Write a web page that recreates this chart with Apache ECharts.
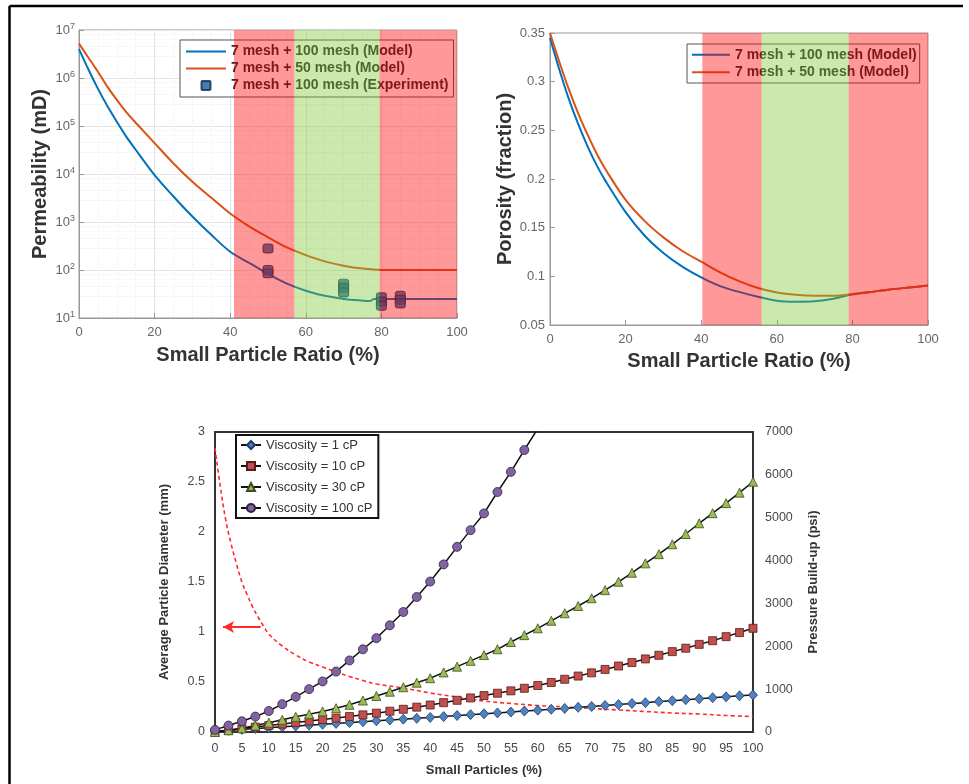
<!DOCTYPE html>
<html><head><meta charset="utf-8">
<script src="https://cdn.jsdelivr.net/npm/echarts@6/dist/echarts.min.js"></script>
<style>html,body{margin:0;padding:0;background:#fff}#c{width:969px;height:784px}</style>
</head><body><div id="c"></div>
<script>
// ---------- Chart A: Permeability ----------
const ratioBlueA = [0,2.5,5,7.5,10,12.5,15,20,25,30,35,40,45,50,55,60,65,70,75,77,78,80,90,100];
const permFine = [4.0e6,1.5e6,6.0e5,2.6e5,1.23e5,6.0e4,3.2e4,9.5e3,3.4e3,1.3e3,540,240,141,83,52,37,29,25,23,22.5,25,25,25,25];
const ratioOrangeA = [0,2.5,5,7.5,10,12.5,15,20,25,30,35,40,45,50,55,60,65,70,75,80,85,90,95,100];
const permCoarse = [5.2e6,2.65e6,1.35e6,6.6e5,3.5e5,1.95e5,1.17e5,4.4e4,1.66e4,6.9e3,3.2e3,1.5e3,810,480,295,204,151,123,107,100,100,100,100,100];
const expRatio = [50,50,50,70,70,70,80,80,80,85,85,85];
const expPerm = [280,100,85,52,42,34,27,22,18,29,24,20];
const bandsA = [[41,57],[57,79.5],[79.5,100]];
const bandKindsA = ['red','green','red'];

// ---------- Chart B: Porosity ----------
const ratioB = [0,2.5,5,7.5,10,12.5,15,20,25,30,35,40,45,50,55,60,65,70,75,80,85,90,95,100];
const porFine = [0.345,0.312,0.282,0.256,0.233,0.213,0.196,0.166,0.142,0.124,0.110,0.099,0.090,0.084,0.079,0.075,0.074,0.0745,0.077,0.0815,0.084,0.0865,0.0885,0.0905];
const porCoarse = [0.35,0.32,0.292,0.267,0.245,0.225,0.208,0.1785,0.157,0.140,0.126,0.115,0.104,0.095,0.088,0.0835,0.081,0.080,0.080,0.0815,0.084,0.0865,0.0885,0.0905];
const bandsB = [[40.3,56],[56,79],[79,100]];
const bandKindsB = ['red','green','red'];

// ---------- Chart C: Pressure build-up ----------
const smallPct = [0,2.5,5,7.5,10,12.5,15,17.5,20,22.5,25,27.5,30,32.5,35,37.5,40,42.5,45,47.5,50,52.5,55,57.5,60,62.5,65,67.5,70,72.5,75,77.5,80,82.5,85,87.5,90,92.5,95,97.5,100];
const visc1 = [20,40,60,80,100,120,140,160,180,200,220,240,260,280,300,320,340,360,385,405,425,445,465,490,510,530,550,575,595,620,640,665,685,710,730,755,775,800,820,845,865];
const visc10 = [0,40,80,115,150,185,220,255,290,325,360,400,440,485,530,580,630,685,740,795,850,905,960,1020,1085,1155,1230,1305,1380,1460,1540,1620,1705,1790,1875,1955,2045,2130,2225,2320,2420];
const visc30 = [0,40,86,150,218,285,355,415,480,555,635,735,840,940,1045,1150,1255,1390,1525,1660,1795,1930,2100,2260,2420,2595,2770,2940,3120,3310,3505,3715,3935,4150,4380,4620,4870,5105,5340,5585,5840];
const visc100 = [50,150,250,360,490,650,820,1000,1180,1410,1670,1930,2190,2490,2800,3150,3510,3910,4320,4710,5100,5600,6070,6580,7080,7620];
const diamPct = [0,1,2,3,4,5,6,7,8,9,10,12.5,15,17.5,20,22.5,25,27.5,30,35,40,45,50,55,60,65,70,75,80,85,90,95,100];
const diamMm = [2.84,2.45,2.12,1.88,1.68,1.50,1.37,1.25,1.15,1.06,0.98,0.86,0.77,0.70,0.65,0.60,0.555,0.515,0.48,0.44,0.39,0.35,0.31,0.285,0.265,0.25,0.235,0.22,0.205,0.19,0.18,0.165,0.155];
const arrowFrom = [8.5, 1.05];
const arrowTo = [1.5, 1.05];
const viscNames = ['Viscosity = 1 cP','Viscosity = 10 cP','Viscosity = 30 cP','Viscosity = 100 cP'];

const NAME_FINE = '7 mesh + 100 mesh (Model)';
const NAME_COARSE = '7 mesh + 50 mesh (Model)';
const NAME_EXP = '7 mesh + 100 mesh (Experiment)';

// ---------- styling ----------
const FONT = '"Liberation Sans", Arial, sans-serif';
const BAND_COLORS = {red:'rgba(255,0,0,0.4)', green:'rgba(128,200,50,0.4)'};
const C_BLUE = '#0072BD', C_ORANGE = '#D95319';
const LINE_ICON = 'path://M0,0H40V2.2H0Z';
const SQUARE_ICON = 'path://M1,0H9Q10,0 10,1V9Q10,10 9,10H1Q0,10 0,9V1Q0,0 1,0Z';
const zip = (xs, ys) => ys.map((v, i) => [xs[i], v]);
const bandArea = (bands, kinds) => ({
  silent: true, z: 10,
  data: bands.map((b, i) => [{xAxis: b[0], itemStyle: {color: BAND_COLORS[kinds[i]]}}, {xAxis: b[1]}])
});
const topAxisLabel = {color:'#666', fontSize:13, fontFamily:FONT};
const topName = {fontSize:20, fontWeight:'bold', color:'#333', fontFamily:FONT};
const botLabel = {color:'#4a4a4a', fontSize:12.5, fontFamily:FONT};
const botName = {fontSize:13, fontWeight:'bold', color:'#333', fontFamily:FONT};

const chart = echarts.init(document.getElementById('c'));
chart.setOption({
  animation: false,
  backgroundColor: '#fff',
  graphic: [
    {type:'line', shape:{x1:9.5, y1:6, x2:963, y2:6}, style:{stroke:'#000', lineWidth:2.5}},
    {type:'line', shape:{x1:9.5, y1:6, x2:9.5, y2:784}, style:{stroke:'#000', lineWidth:2.5}}
  ],
  grid: [
    {left:79, top:30, width:378, height:288, show:true, borderColor:'#999', borderWidth:1},
    {left:550, top:33, width:378, height:292, show:true, borderColor:'#999', borderWidth:1},
    {left:215, top:432, width:538, height:300, show:true, borderColor:'#333', borderWidth:2}
  ],
  legend: [
    {left:180, top:40, orient:'vertical', z:3, symbolKeepAspect:true,
     data:[{name:NAME_FINE, icon:LINE_ICON}, {name:NAME_COARSE, icon:LINE_ICON}, {name:NAME_EXP, icon:SQUARE_ICON}],
     backgroundColor:'#fff', borderColor:'#555', borderWidth:1, padding:[3,5,3,6], itemGap:0,
     itemWidth:40, itemHeight:9,
     textStyle:{fontSize:14, fontWeight:'bold', color:'#2a2a2a', fontFamily:FONT, lineHeight:17}},
    {left:687, top:44, orient:'vertical', z:3, symbolKeepAspect:true,
     data:[{name:NAME_FINE, icon:LINE_ICON}, {name:NAME_COARSE, icon:LINE_ICON}],
     backgroundColor:'#fff', borderColor:'#555', borderWidth:1, padding:[2,3,2,5], itemGap:0,
     itemWidth:38, itemHeight:9,
     textStyle:{fontSize:14, fontWeight:'bold', color:'#2a2a2a', fontFamily:FONT, lineHeight:17.5}},
    {left:236, top:435, orient:'vertical', data: viscNames,
     backgroundColor:'#fff', borderColor:'#111', borderWidth:2, padding:[3,6,3,4], itemGap:7,
     itemWidth:20, itemHeight:10,
     textStyle:{fontSize:13, color:'#333', fontFamily:FONT, lineHeight:14}}
  ],
  xAxis: [
    {gridIndex:0, type:'value', min:0, max:100, interval:20,
     axisLine:{show:true, lineStyle:{color:'#999'}}, axisTick:{inside:true, length:5, lineStyle:{color:'#999'}},
     axisLabel:Object.assign({margin:8}, topAxisLabel),
     splitLine:{show:true, lineStyle:{color:'#e4e4e4'}},
     minorTick:{show:false, splitNumber:4}, minorSplitLine:{show:true, lineStyle:{color:'#efefef', type:'dotted'}},
     name:'Small Particle Ratio (%)', nameLocation:'middle', nameGap:27, nameTextStyle:topName},
    {gridIndex:1, type:'value', min:0, max:100, interval:20,
     axisLine:{show:true, lineStyle:{color:'#999'}}, axisTick:{inside:true, length:5, lineStyle:{color:'#999'}},
     axisLabel:Object.assign({margin:8}, topAxisLabel), splitLine:{show:false},
     name:'Small Particle Ratio (%)', nameLocation:'middle', nameGap:26, nameTextStyle:topName},
    {gridIndex:2, type:'value', min:0, max:100, interval:5,
     axisLine:{show:true, lineStyle:{color:'#333', width:2}}, axisTick:{show:false},
     axisLabel:Object.assign({margin:10}, botLabel), splitLine:{show:false},
     name:'Small Particles (%)', nameLocation:'middle', nameGap:32, nameTextStyle:botName}
  ],
  yAxis: [
    {gridIndex:0, type:'log', logBase:10, min:10, max:1e7,
     axisLine:{show:true, lineStyle:{color:'#999'}}, axisTick:{inside:true, length:5, lineStyle:{color:'#999'}},
     axisLabel:Object.assign({margin:4, lineHeight:16,
       formatter: v => '10{s|' + Math.round(Math.log10(v)) + '}',
       rich:{s:{fontSize:9, color:'#666', verticalAlign:'top', lineHeight:12, fontFamily:FONT}}}, topAxisLabel),
     splitLine:{show:true, lineStyle:{color:'#e4e4e4'}},
     minorTick:{show:false, splitNumber:5}, minorSplitLine:{show:true, lineStyle:{color:'#efefef', type:'dotted'}},
     name:'Permeability (mD)', nameLocation:'middle', nameGap:29, nameTextStyle:topName},
    {gridIndex:1, type:'value', min:0.05, max:0.35, interval:0.05,
     axisLine:{show:true, lineStyle:{color:'#999'}}, axisTick:{inside:true, length:5, lineStyle:{color:'#999'}},
     axisLabel:Object.assign({margin:5}, topAxisLabel), splitLine:{show:false},
     name:'Porosity (fraction)', nameLocation:'middle', nameGap:35, nameTextStyle:topName},
    {gridIndex:2, type:'value', min:0, max:3, interval:0.5, position:'left',
     axisLine:{show:true, lineStyle:{color:'#333', width:2}}, axisTick:{show:false},
     axisLabel:Object.assign({margin:10}, botLabel), splitLine:{show:false},
     name:'Average Particle Diameter (mm)', nameLocation:'middle', nameGap:44, nameRotate:90, nameTextStyle:botName},
    {gridIndex:2, type:'value', min:0, max:7000, interval:1000, position:'right',
     axisLine:{show:true, lineStyle:{color:'#333', width:2}}, axisTick:{show:false},
     axisLabel:Object.assign({margin:12, formatter: v => String(v)}, botLabel), splitLine:{show:false},
     name:'Pressure Build-up (psi)', nameLocation:'middle', nameGap:54, nameRotate:90, nameTextStyle:botName}
  ],
  series: [
    {name:NAME_FINE, type:'line', xAxisIndex:0, yAxisIndex:0, data:zip(ratioBlueA, permFine),
     symbol:'none', smooth:0.3, lineStyle:{color:C_BLUE, width:2}, itemStyle:{color:C_BLUE},
     markArea: bandArea(bandsA, bandKindsA)},
    {name:NAME_COARSE, type:'line', xAxisIndex:0, yAxisIndex:0, data:zip(ratioOrangeA, permCoarse),
     symbol:'none', smooth:0.3, lineStyle:{color:C_ORANGE, width:2}, itemStyle:{color:C_ORANGE}},
    {name:NAME_EXP, type:'scatter', xAxisIndex:0, yAxisIndex:0, data:zip(expRatio, expPerm),
     symbol:'roundRect', symbolSize:[10,9], z:3,
     itemStyle:{color:'#0F5FA0', borderColor:'#0a2a48', borderWidth:1}},
    {name:NAME_FINE, type:'line', xAxisIndex:1, yAxisIndex:1, data:zip(ratioB, porFine),
     symbol:'none', smooth:0.3, lineStyle:{color:C_BLUE, width:2}, itemStyle:{color:C_BLUE},
     markArea: bandArea(bandsB, bandKindsB)},
    {name:NAME_COARSE, type:'line', xAxisIndex:1, yAxisIndex:1, data:zip(ratioB, porCoarse),
     symbol:'none', smooth:0.3, lineStyle:{color:C_ORANGE, width:2}, itemStyle:{color:C_ORANGE}},
    {name:'Average Particle Diameter (mm)', type:'line', xAxisIndex:2, yAxisIndex:2, data:zip(diamPct, diamMm),
     symbol:'none', smooth:0.4, z:1, lineStyle:{color:'#FF2A2A', width:1.6, type:[4,3]},
     markLine:{silent:true, symbol:['none','arrow'], symbolSize:[9,11], label:{show:false},
       lineStyle:{color:'#FF2A2A', width:2, type:'solid'},
       data:[[{coord:arrowFrom},{coord:arrowTo}]]}},
    {name:viscNames[0], type:'line', xAxisIndex:2, yAxisIndex:3, data:zip(smallPct, visc1),
     symbol:'diamond', symbolSize:[9,10], lineStyle:{color:'#111', width:1.5},
     itemStyle:{color:'#4F81BD', borderColor:'#1d3c66', borderWidth:0.8}},
    {name:viscNames[1], type:'line', xAxisIndex:2, yAxisIndex:3, data:zip(smallPct, visc10),
     symbol:'rect', symbolSize:8, lineStyle:{color:'#111', width:1.5},
     itemStyle:{color:'#C0504D', borderColor:'#5a1a18', borderWidth:0.8}},
    {name:viscNames[2], type:'line', xAxisIndex:2, yAxisIndex:3, data:zip(smallPct, visc30),
     symbol:'triangle', symbolSize:9, lineStyle:{color:'#111', width:1.5},
     itemStyle:{color:'#9BBB59', borderColor:'#3d4d1c', borderWidth:0.8}},
    {name:viscNames[3], type:'line', xAxisIndex:2, yAxisIndex:3, data:zip(smallPct, visc100),
     symbol:'circle', symbolSize:9, clip:true, lineStyle:{color:'#111', width:1.5},
     itemStyle:{color:'#8064A2', borderColor:'#2e2040', borderWidth:0.8}}
  ]
});
</script></body></html>
